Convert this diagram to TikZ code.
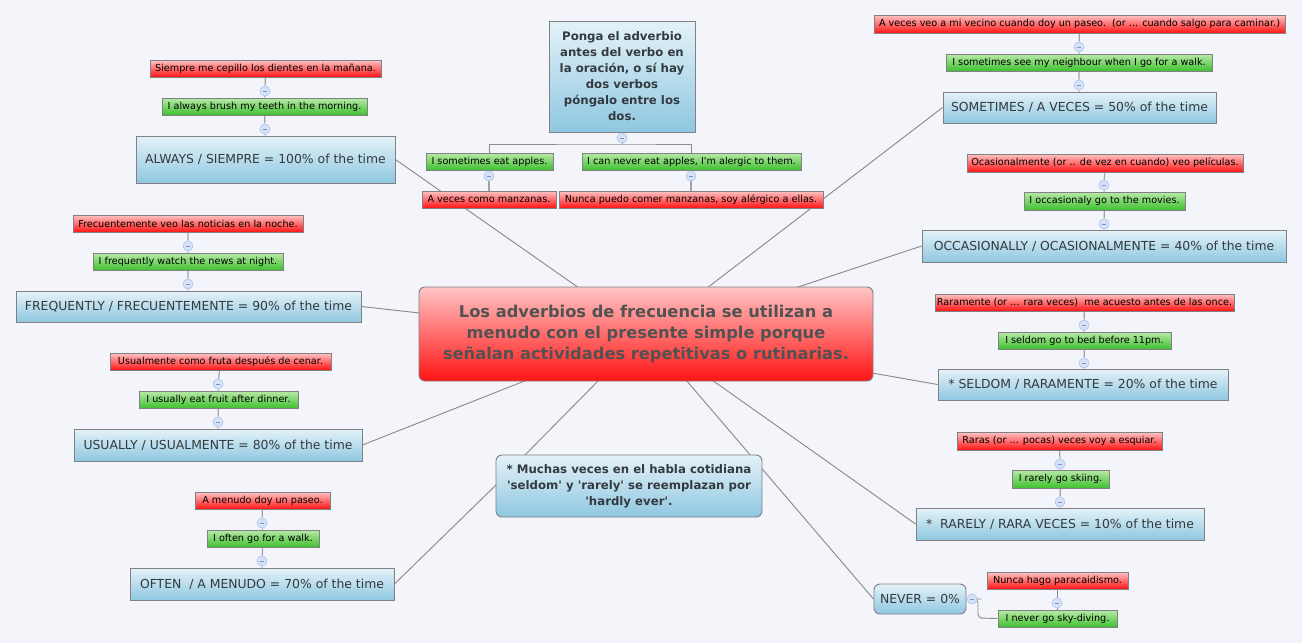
\documentclass[tikz,border=0pt]{standalone}
\usepackage{fontspec}
\setmainfont{DejaVu Sans}[Ligatures=TeXOff]
\pgfdeclarelayer{pagebg}
\pgfdeclarelayer{conn}
\pgfsetlayers{pagebg,conn,main}
\definecolor{pagecol}{HTML}{F3F5FB}
\definecolor{edgecol}{HTML}{808085}
\definecolor{linecol}{HTML}{8A8A90}
\definecolor{inkcol}{HTML}{333A40}
\definecolor{redtop}{HTML}{FFC4C4}
\definecolor{redbot}{HTML}{FF1414}
\definecolor{greentop}{HTML}{B8EAA8}
\definecolor{greenbot}{HTML}{40C030}
\definecolor{bluetop}{HTML}{E4F2F8}
\definecolor{bluebot}{HTML}{8FC7E1}
\definecolor{colfill}{HTML}{D6E2F8}
\definecolor{coledge}{HTML}{B4CAEE}
\definecolor{colminus}{HTML}{7F93C4}
\tikzset{
  boxbase/.style={draw=edgecol,line width=0.7pt,inner sep=0pt,align=center,text=black},
  redbox/.style={boxbase,top color=redtop,bottom color=redbot,font=\fontsize{7.25}{10}\selectfont},
  greenbox/.style={boxbase,top color=greentop,bottom color=greenbot,font=\fontsize{7.25}{10}\selectfont},
  topicbox/.style={boxbase,top color=bluetop,bottom color=bluebot,text=inkcol,font=\fontsize{9.3}{12}\selectfont},
  notebox/.style={topicbox,font=\bfseries\fontsize{8.8}{12}\selectfont},
  mainbox/.style={boxbase,rounded corners=4.5pt,top color=redtop,bottom color=redbot,text=black!68,font=\bfseries\fontsize{12.2}{15.5}\selectfont},
  roundtopic/.style={topicbox,rounded corners=4.5pt},
  roundnote/.style={notebox,rounded corners=4.5pt},
  col/.style={circle,draw=coledge,fill=colfill,line width=0.6pt,minimum size=7.5pt,inner sep=0pt,
    path picture={\draw[colminus,line width=0.5pt]([xshift=-1.8pt]path picture bounding box.center)--([xshift=1.8pt]path picture bounding box.center);}},
  link/.style={draw=linecol,line width=0.7pt},
  stem/.style={draw=linecol!80!white,line width=0.9pt}
}
\newcommand{\bx}[7]{%
  \pgfmathsetmacro{\bxw}{(#5-#3)*0.75}%
  \pgfmathsetmacro{\bxh}{(#6-#4)*0.75}%
  \node[#2,minimum width=\bxw pt,minimum height=\bxh pt] (#1) at ({(#3+#5)/2},{(#4+#6)/2}) {#7};}
\newcommand{\triple}[1]{% red, circle, green, circle, topic
  \begin{pgfonlayer}{conn}
    \draw[stem] (#1r) -- (#1c1) -- (#1g) -- (#1c2) -- (#1);
  \end{pgfonlayer}}
\begin{document}
\begin{tikzpicture}[x=0.75pt,y=-0.75pt]
\useasboundingbox (0,0) rectangle (1302,643);
\begin{pgfonlayer}{pagebg}
\fill[pagecol] (0,0) rectangle (1302,643);
\end{pgfonlayer}

\bx{main}{mainbox}{419}{287}{873}{381}{Los adverbios de frecuencia se utilizan a\\menudo con el presente simple porque\\señalan actividades repetitivas o rutinarias.}

% top note
\bx{top}{notebox}{549}{21}{695}{132}{Ponga el adverbio\\antes del verbo en\\la oración, o sí hay\\dos verbos\\póngalo entre los\\dos.}
\bx{tg1}{greenbox}{426}{153}{553}{170}{I sometimes eat apples.}
\bx{tr1}{redbox}{422}{191}{556}{208}{A veces como manzanas.}
\bx{tg2}{greenbox}{582}{153}{801}{170}{I can never eat apples, I'm alergic to them.}
\bx{tr2}{redbox}{559}{191}{823}{208}{Nunca puedo comer manzanas, soy alérgico a ellas.}
\node[col] (topc) at (622,138) {};
\node[col] (tc1) at (489,176) {};
\node[col] (tc2) at (691,176) {};
\coordinate (tj) at (622,144);
\coordinate (tb1) at (489,153);
\coordinate (tb2) at (691,153);
\begin{pgfonlayer}{conn}
\draw[link] (top) -- (topc) -- (tj);
\draw[link] (tb1) |- (tj) -| (tb2);
\draw[stem] (tb1) -- (tc1) -- (tr1.north -| tc1);
\draw[stem] (tb2) -- (tc2) -- (tr2.north -| tc2);
\end{pgfonlayer}

% ALWAYS
\bx{always}{topicbox}{136}{136}{395}{183}{\raisebox{-5.6pt}{ALWAYS / SIEMPRE = 100\% of the time}}
\bx{alwaysg}{greenbox}{162}{98}{367}{115}{I always brush my teeth in the morning.}
\bx{alwaysr}{redbox}{150}{60}{381}{77}{Siempre me cepillo los dientes en la mañana.}
\node[col] (alwaysc1) at (265,91) {};
\node[col] (alwaysc2) at (265,129) {};
\triple{always}

% FREQUENTLY
\bx{freq}{topicbox}{16}{291}{361}{322}{FREQUENTLY / FRECUENTEMENTE = 90\% of the time}
\bx{freqg}{greenbox}{93}{253}{283}{270}{I frequently watch the news at night.}
\bx{freqr}{redbox}{73}{215}{303}{232}{Frecuentemente veo las noticias en la noche.}
\node[col] (freqc1) at (188,246) {};
\node[col] (freqc2) at (188,284) {};
\triple{freq}

% USUALLY
\bx{usu}{topicbox}{74}{429}{362}{461}{USUALLY / USUALMENTE = 80\% of the time}
\bx{usug}{greenbox}{139}{391}{298}{408}{I usually eat fruit after dinner.}
\bx{usur}{redbox}{110}{353}{331}{370}{Usualmente como fruta después de cenar.}
\node[col] (usuc1) at (218,384) {};
\node[col] (usuc2) at (218,422) {};
\triple{usu}

% OFTEN
\bx{often}{topicbox}{130}{568}{394}{600}{OFTEN\ \ / A MENUDO = 70\% of the time}
\bx{ofteng}{greenbox}{207}{530}{319}{547}{I often go for a walk.}
\bx{oftenr}{redbox}{195}{492}{330}{509}{A menudo doy un paseo.}
\node[col] (oftenc1) at (262,523) {};
\node[col] (oftenc2) at (262,561) {};
\triple{often}

% SOMETIMES
\bx{some}{topicbox}{943}{92}{1216}{123}{SOMETIMES / A VECES = 50\% of the time}
\bx{someg}{greenbox}{946}{54}{1212}{71}{I sometimes see my neighbour when I go for a walk.}
\bx{somer}{redbox}{874}{15}{1285}{33}{A veces veo a mi vecino cuando doy un paseo.\ \ (or ... cuando salgo para caminar.)}
\node[col] (somec1) at (1079,47) {};
\node[col] (somec2) at (1079,85) {};
\triple{some}

% OCCASIONALLY
\bx{occ}{topicbox}{922}{230}{1286}{262}{OCCASIONALLY / OCASIONALMENTE = 40\% of the time}
\bx{occg}{greenbox}{1024}{192}{1185}{210}{I occasionaly go to the movies.}
\bx{occr}{redbox}{967}{154}{1243}{172}{Ocasionalmente (or .. de vez en cuando) veo películas.}
\node[col] (occc1) at (1104,185) {};
\node[col] (occc2) at (1104,224) {};
\triple{occ}

% SELDOM
\bx{sel}{topicbox}{938}{369}{1228}{400}{* SELDOM / RARAMENTE = 20\% of the time}
\bx{selg}{greenbox}{998}{332}{1171}{349}{I seldom go to bed before 11pm.}
\bx{selr}{redbox}{935}{294}{1234}{311}{Raramente (or ... rara veces)\ \ me acuesto antes de las once.}
\node[col] (selc1) at (1084,325) {};
\node[col] (selc2) at (1084,363) {};
\triple{sel}

% RARELY
\bx{rar}{topicbox}{916}{508}{1204}{540}{*\ \ RARELY / RARA VECES = 10\% of the time}
\bx{rarg}{greenbox}{1012}{470}{1109}{488}{I rarely go skiing.}
\bx{rarr}{redbox}{957}{432}{1162}{450}{Raras (or ... pocas) veces voy a esquiar.}
\node[col] (rarc1) at (1060,464) {};
\node[col] (rarc2) at (1060,502) {};
\triple{rar}

% NEVER
\bx{never}{roundtopic}{874}{584}{966}{614}{NEVER = 0\%}
\bx{neverg}{greenbox}{998}{610}{1117}{627}{I never go sky-diving.}
\bx{neverr}{redbox}{987}{572}{1128}{589}{Nunca hago paracaidismo.}
\node[col] (nevc0) at (972,599) {};
\node[col] (nevc1) at (1057,603) {};
\coordinate (nevb) at (978,618);
\begin{pgfonlayer}{conn}
\draw[link] (neverr.south -| nevc1) -- (nevc1) -- (neverg.north -| nevc1);
\draw[link,rounded corners=3pt] (never.east) -- (nevc0.east) -| (nevb) -- (neverg.west);
\end{pgfonlayer}

% bottom note
\bx{note}{roundnote}{496}{455}{762}{517}{* Muchas veces en el habla cotidiana\\'seldom' y 'rarely' se reemplazan por\\'hardly ever'.}

% radial connectors
\coordinate (m1) at (579,288);
\coordinate (m2) at (419.5,313);
\coordinate (m3) at (527,380);
\coordinate (m4) at (599,380);
\coordinate (m5) at (686,380);
\coordinate (m6) at (712,380);
\coordinate (m7) at (872,373);
\coordinate (m8) at (795,288);
\coordinate (m9) at (707,288);
\coordinate (n1) at (524,456);
\coordinate (n2) at (497,484);
\begin{pgfonlayer}{conn}
\draw[link] (m1) -- (always.east);
\draw[link] (m2) -- (freq.east);
\draw[link] (m3) -- (usu.east);
\draw[link] (m4) -- (n1);
\draw[link] (n2) -- (often.east);
\draw[link] (m5) -- (never.west);
\draw[link] (m6) -- (rar.west);
\draw[link] (m7) -- (sel.west);
\draw[link] (m8) -- (occ.west);
\draw[link] (m9) -- (some.west);
\end{pgfonlayer}
\end{tikzpicture}
\end{document}
